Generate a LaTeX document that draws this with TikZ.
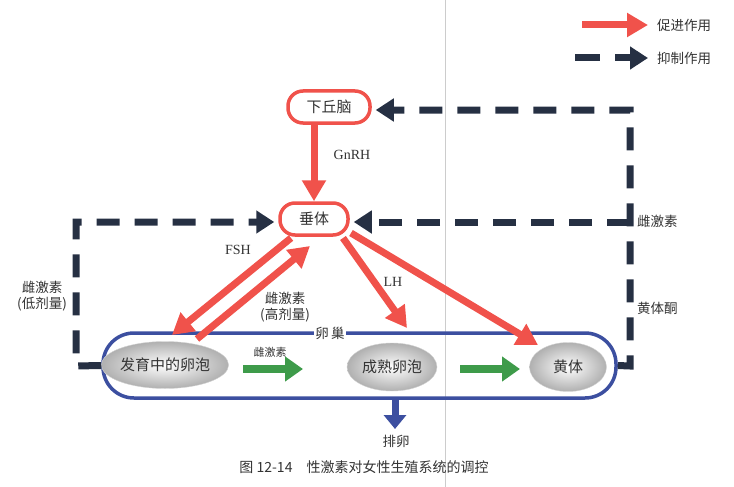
\documentclass[tikz,border=0pt]{standalone}
\usepackage{fontspec}
\setmainfont{Liberation Serif}
\newfontfamily\cjk{Noto Sans CJK SC}
\usetikzlibrary{arrows.meta,shapes.geometric,calc}
\definecolor{pred}{HTML}{F0524B}
\definecolor{inhibc}{HTML}{263043}
\definecolor{ovblue}{HTML}{3C4FA0}
\definecolor{pgreen}{HTML}{3E9B4A}
\definecolor{txt}{HTML}{333333}
\begin{document}
\begin{tikzpicture}[x=1pt,y=-1pt,
  organ/.style={draw=pred, line width=3.5pt, fill=white, rounded corners=15pt, minimum height=32pt, inner sep=0pt, text=txt, font=\cjk\fontsize{15}{15}\selectfont},
  promote/.style={draw=pred, line width=7pt, -{Triangle[width=23pt,length=21pt]}},
  inhibit/.style={draw=inhibc, line width=7pt, line join=miter, dash pattern=on 23pt off 15pt, -{Triangle[width=22pt,length=18pt]}},
  growth/.style={draw=pgreen, line width=8pt, -{Triangle[width=24pt,length=18pt]}},
  cell/.style={ellipse, inner sep=0pt, shading=radial, inner color=white, outer color=gray!62, draw=gray!35, thin, text=txt, font=\cjk\fontsize{15}{15}\selectfont},
  lbl/.style={text=txt, font=\cjk\fontsize{13.5}{16}\selectfont, align=center, inner sep=1pt},
  lat/.style={text=txt, font=\fontsize{14}{14}\selectfont, inner sep=1pt}]
\useasboundingbox (0,0) rectangle (734,487);
% scan fold line
\draw[gray!40, line width=0.7pt] (445,0) -- (445,487);

% legend
\coordinate (lg1a) at (582,25); \coordinate (lg1b) at (648,25);
\draw[promote] (lg1a) -- (lg1b);
\node[lbl, anchor=west] (lgt1) at (656,25) {促进作用};
\coordinate (lg2a) at (575,58); \coordinate (lg2b) at (600,58);
\coordinate (lg2c) at (615,58); \coordinate (lg2d) at (648,58);
\draw[draw=inhibc, line width=7pt] (lg2a) -- (lg2b);
\draw[draw=inhibc, line width=7pt, -{Triangle[width=22pt,length=18pt]}] (lg2c) -- (lg2d);
\node[lbl, anchor=west] (lgt2) at (656,58) {抑制作用};

% main organs
\node[organ, minimum width=82pt] (hyp) at (329,107) {下丘脑};
\node[organ, minimum width=68pt] (pit) at (314,219) {垂体};

% ovary
\node[draw=ovblue, line width=3.5pt, rounded corners=31pt, minimum width=513pt, minimum height=65pt, inner sep=0pt] (ovary) at (359.5,365.5) {};
\node[fill=white, lbl, inner sep=1.5pt] (ovlbl) at (330,333) {卵\,巢};

\node[cell, minimum width=106pt, minimum height=47pt] (f1) at (165,365) {发育中的卵泡};
\node[cell, minimum width=90pt, minimum height=48pt] (f2) at (392,367) {成熟卵泡};
\node[cell, minimum width=77pt, minimum height=49pt] (cl) at (568,367) {黄体};

% green development arrows
\coordinate (g1a) at (243,369); \coordinate (g1b) at (303,369);
\coordinate (g2a) at (460,369); \coordinate (g2b) at (520,369);
\draw[growth] (g1a) -- (g1b);
\draw[growth] (g2a) -- (g2b);
\node[lbl, font=\cjk\fontsize{11}{11}\selectfont] (gl) at (270,352) {雌激素};

% ovulation
\coordinate (ovt) at (395,429);
\draw[draw=ovblue, line width=7pt, -{Triangle[width=22pt,length=14pt]}] (ovary.south -| ovt) -- (ovt);
\node[lbl] (ovu) at (396,441) {排卵};

% GnRH
\draw[promote] (hyp.south -| pit) -- (pit.north);
\node[lat] (gnrh) at (352,155) {GnRH};

% pituitary -> ovary
\coordinate (fshs) at (291,238); \coordinate (fsht) at (172,335);
\coordinate (e2s) at (197,339); \coordinate (e2t) at (310,246);
\coordinate (lhs) at (343,238); \coordinate (lht) at (407,328);
\coordinate (cls) at (351,233); \coordinate (clt) at (538,345);
\draw[promote] (fshs) -- (fsht);
\draw[promote] (e2s) -- (e2t);
\draw[promote] (lhs) -- (lht);
\draw[promote] (cls) -- (clt);
\node[lat] (fsh) at (238,250) {FSH};
\node[lat] (lh) at (393,282) {LH};
\node[lbl] (e2h) at (285,307) {雌激素\\(高剂量)};

% inhibitory feedback
\coordinate (rb) at (630,366); \coordinate (rt) at (630,110);
\coordinate (rm) at (630,222);
\coordinate (lb) at (76,366); \coordinate (lt) at (76,222);
\draw[inhibit] (ovary.east) -- (rb) -- (rt) -- ($(hyp.east |- rt)+(4,0)$);
\draw[inhibit] (rm) -- ($(pit.east |- rm)+(4,0)$);
\draw[inhibit] (ovary.west) -- (lb) -- (lt) -- ($(pit.west |- lt)+(-4,0)$);
\node[lbl, anchor=west] (re) at (636,221) {雌激素};
\node[lbl, anchor=west] (rp) at (636,308) {黄体酮};
\node[lbl] (le) at (42,296) {雌激素\\(低剂量)};

% caption
\node[lbl, font=\cjk\fontsize{14}{14}\selectfont] (cap) at (364,467) {图 12-14\quad 性激素对女性生殖系统的调控};
\end{tikzpicture}
\end{document}
